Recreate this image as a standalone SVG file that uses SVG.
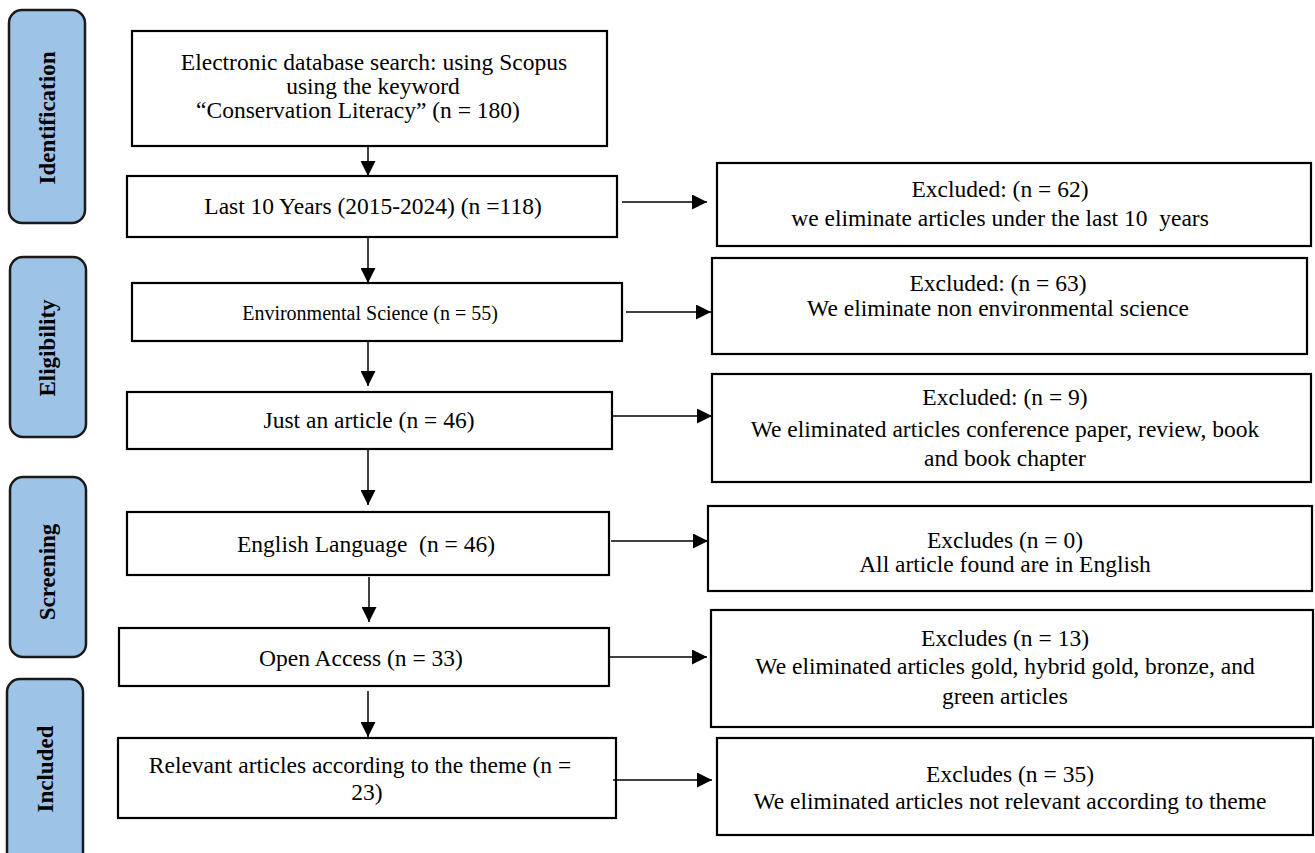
<svg xmlns="http://www.w3.org/2000/svg" width="1315" height="853" viewBox="0 0 1315 853">
<defs>
<style>
.phase{fill:#9DC3E6;stroke:#1a1a1a;stroke-width:2.5}
.phase-t{font-family:"Liberation Serif","Times New Roman",serif;font-weight:bold;font-size:23px;fill:#000;text-anchor:middle;dominant-baseline:central}
.box{fill:#fff;stroke:#000;stroke-width:2.2}
.t{font-family:"Liberation Serif","Times New Roman",serif;font-size:23.5px;fill:#000;text-anchor:middle;white-space:pre}
.ts{font-family:"Liberation Serif","Times New Roman",serif;font-size:20px;fill:#000;text-anchor:middle}
.conn{stroke:#000;stroke-width:1.5;fill:none;marker-end:url(#ah)}
</style>
<marker id="ah" viewBox="0 0 10 10" refX="10" refY="5" markerUnits="userSpaceOnUse" markerWidth="15" markerHeight="15" orient="auto">
<path d="M0,0 L10,5 L0,10 Z" fill="#000"/>
</marker>
</defs>
<rect width="1315" height="853" fill="#fff"/>

<g id="phase-identification">
<rect class="phase" x="9" y="10" width="76" height="213" rx="13"/>
<text class="phase-t" transform="translate(47,118) rotate(-90)">Identification</text>
</g>
<g id="phase-eligibility">
<rect class="phase" x="10" y="257" width="76" height="180" rx="13"/>
<text class="phase-t" transform="translate(47,348) rotate(-90)">Eligibility</text>
</g>
<g id="phase-screening">
<rect class="phase" x="10" y="477" width="76" height="180" rx="13"/>
<text class="phase-t" transform="translate(47,572) rotate(-90)">Screening</text>
</g>
<g id="phase-included">
<rect class="phase" x="7" y="679" width="76" height="190" rx="13"/>
<text class="phase-t" transform="translate(45,769) rotate(-90)">Included</text>
</g>

<g id="n1">
<rect class="box" x="132" y="31" width="475" height="115"/>
<text class="t" x="374" y="70">Electronic database search: using Scopus</text>
<text class="t" x="373" y="94">using the keyword</text>
<text class="t" x="358" y="118">“Conservation Literacy” (n = 180)</text>
</g>
<g id="n2">
<rect class="box" x="127" y="176" width="490" height="61"/>
<text class="t" x="373" y="214">Last 10 Years (2015-2024) (n =118)</text>
</g>
<g id="n3">
<rect class="box" x="132" y="283" width="490" height="58"/>
<text class="ts" x="370" y="320">Environmental Science (n = 55)</text>
</g>
<g id="n4">
<rect class="box" x="127" y="392" width="485" height="57"/>
<text class="t" x="369" y="428">Just an article (n = 46)</text>
</g>
<g id="n5">
<rect class="box" x="127" y="512" width="482" height="63"/>
<text class="t" x="366" y="552" xml:space="preserve">English Language  (n = 46)</text>
</g>
<g id="n6">
<rect class="box" x="119" y="628" width="490" height="58"/>
<text class="t" x="361" y="666">Open Access (n = 33)</text>
</g>
<g id="n7">
<rect class="box" x="118" y="738" width="498" height="80"/>
<text class="t" x="360" y="773">Relevant articles according to the theme (n =</text>
<text class="t" x="367" y="800">23)</text>
</g>

<g id="x1">
<rect class="box" x="717" y="163" width="594" height="83"/>
<text class="t" x="1000" y="197">Excluded: (n = 62)</text>
<text class="t" x="1000" y="226" xml:space="preserve">we eliminate articles under the last 10  years</text>
</g>
<g id="x2">
<rect class="box" x="712" y="258" width="595" height="96"/>
<text class="t" x="998" y="291">Excluded: (n = 63)</text>
<text class="t" x="998" y="316">We eliminate non environmental science</text>
</g>
<g id="x3">
<rect class="box" x="712" y="374" width="599" height="108"/>
<text class="t" x="1005" y="405">Excluded: (n = 9)</text>
<text class="t" x="1005" y="437">We eliminated articles conference paper, review, book</text>
<text class="t" x="1005" y="466">and book chapter</text>
</g>
<g id="x4">
<rect class="box" x="708" y="506" width="604" height="85"/>
<text class="t" x="1005" y="548">Excludes (n = 0)</text>
<text class="t" x="1005" y="572">All article found are in English</text>
</g>
<g id="x5">
<rect class="box" x="711" y="610" width="602" height="117"/>
<text class="t" x="1005" y="646">Excludes (n = 13)</text>
<text class="t" x="1005" y="674">We eliminated articles gold, hybrid gold, bronze, and</text>
<text class="t" x="1005" y="704">green articles</text>
</g>
<g id="x6">
<rect class="box" x="717" y="738" width="596" height="97"/>
<text class="t" x="1010" y="782">Excludes (n = 35)</text>
<text class="t" x="1010" y="809">We eliminated articles not relevant according to theme</text>
</g>

<g id="connectors">
<line class="conn" x1="368" y1="146" x2="368" y2="176"/>
<line class="conn" x1="368" y1="237" x2="368" y2="283"/>
<line class="conn" x1="368" y1="341" x2="368" y2="386"/>
<line class="conn" x1="368" y1="449" x2="368" y2="505"/>
<line class="conn" x1="369" y1="577" x2="369" y2="622"/>
<line class="conn" x1="368" y1="691" x2="368" y2="737"/>
<line class="conn" x1="622" y1="202" x2="707" y2="202"/>
<line class="conn" x1="626" y1="312" x2="711" y2="312"/>
<line class="conn" x1="613" y1="416" x2="712" y2="416"/>
<line class="conn" x1="611" y1="541" x2="708" y2="541"/>
<line class="conn" x1="609" y1="657" x2="707" y2="657"/>
<line class="conn" x1="613" y1="780" x2="712" y2="780"/>
</g>
</svg>
